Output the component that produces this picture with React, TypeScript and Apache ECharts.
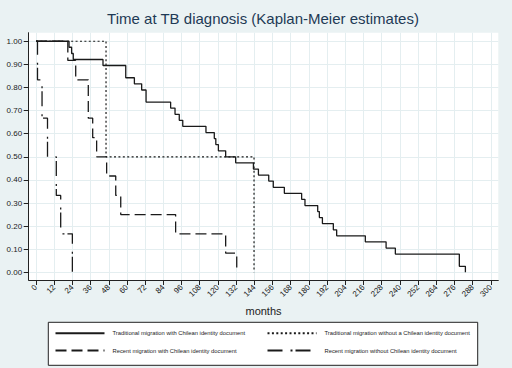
import React, { useEffect, useRef } from "react";
import * as echarts from "echarts";

const titleText = "Time at TB diagnosis (Kaplan-Meier estimates)";
const xAxisName = "months";

const xTicks = [0, 12, 24, 36, 48, 60, 72, 84, 96, 108, 120, 132, 144, 156, 168, 180, 192, 204, 216, 228, 240, 252, 264, 276, 288, 300];
const yTicks = [0, 0.1, 0.2, 0.3, 0.4, 0.5, 0.6, 0.7, 0.8, 0.9, 1.0];

const seriesNames = [
  "Traditional migration with Chilean identity document",
  "Traditional migration without a Chilean identity document",
  "Recent migration with Chilean identity document",
  "Recent migration without Chilean identity document",
];

// [months, survival] — survival after the step at that time
const tradWithId: [number, number][] = [
  [0, 1], [21.8, 0.974], [23.5, 0.947], [24.6, 0.921], [44.2, 0.895], [59.2, 0.842],
  [64.9, 0.816], [69.7, 0.789], [72.6, 0.737], [88.8, 0.711], [91.7, 0.684], [94.5, 0.658],
  [96.8, 0.632], [112.1, 0.605], [117.6, 0.579], [118.6, 0.553], [120.3, 0.526], [125.1, 0.5],
  [131.7, 0.474], [143.4, 0.447], [146.7, 0.421], [153.5, 0.395], [156.5, 0.368], [163.8, 0.342],
  [175.2, 0.316], [177.4, 0.289], [185.8, 0.263], [186.9, 0.237], [188.9, 0.211], [196.1, 0.184],
  [198.3, 0.158], [217.2, 0.132], [230.9, 0.105], [237.0, 0.079], [279.2, 0.026], [283.2, 0],
];
const tradWithoutId: [number, number][] = [
  [0, 1], [46.2, 0.5], [143.8, 0],
];
const recentWithId: [number, number][] = [
  [0, 1], [21, 0.917], [26.2, 0.833], [34.5, 0.667], [37.4, 0.583], [40.0, 0.5],
  [46.6, 0.417], [52.6, 0.333], [55.9, 0.25], [92.1, 0.167], [125.1, 0.083], [132.4, 0],
];
const recentWithoutId: [number, number][] = [
  [0, 1], [1.0, 0.833], [4.0, 0.667], [7.6, 0.5], [13.4, 0.333], [16.3, 0.167], [24.0, 0],
];

const FONT = "'Liberation Sans', Arial, Helvetica, sans-serif";
const INK = "#1a1a1a";

export default function App() {
  const ref = useRef<HTMLDivElement>(null);
  useEffect(() => {
    const chart = echarts.init(ref.current!, null, { renderer: "svg" });
    const lineSeries = (name: string, data: [number, number][], type: any, width = 1.3) => ({
      name,
      type: "line",
      step: "end",
      symbol: "none",
      showSymbol: false,
      data,
      lineStyle: { color: INK, width, type },
      itemStyle: { color: INK },
      emphasis: { disabled: true },
    });
    const legendCommon = {
      orient: "vertical",
      top: 330,
      itemWidth: 49,
      itemHeight: 8,
      itemGap: 11,
      padding: 0,
      selectedMode: false,
      itemStyle: { color: "rgba(0,0,0,0)", borderWidth: 0, opacity: 0 },
      textStyle: { fontSize: 5.8, color: INK, fontFamily: FONT, padding: [0, 0, 0, 3] },
    };
    chart.setOption({
      animation: false,
      backgroundColor: "#EAF2F3",
      textStyle: { fontFamily: FONT },
      title: {
        text: titleText,
        left: 263,
        top: 11,
        padding: 0,
        textAlign: "center",
        textStyle: { fontSize: 15, fontWeight: "normal", color: "#1e3a55", fontFamily: FONT },
      },
      grid: {
        left: 28.7,
        right: 13.7,
        top: 32.7,
        bottom: 88,
        show: true,
        backgroundColor: "#ffffff",
        borderWidth: 0,
      },
      xAxis: {
        type: "value",
        min: -4.8,
        max: 304.9,
        name: xAxisName,
        nameLocation: "middle",
        nameGap: 18,
        nameTextStyle: { fontSize: 11, color: "#222", fontFamily: FONT },
        axisLine: { show: true, onZero: false, lineStyle: { color: "#222", width: 1 } },
        axisTick: { show: true, length: 5, customValues: xTicks, lineStyle: { color: "#222" } },
        axisLabel: { customValues: xTicks, rotate: 45, fontSize: 8, color: INK, margin: 6, fontFamily: FONT },
        splitLine: { show: true, lineStyle: { color: "#E4EEF0", width: 1 } },
      },
      yAxis: {
        type: "value",
        min: -0.033,
        max: 1.037,
        axisLine: { show: true, onZero: false, lineStyle: { color: "#222", width: 1 } },
        axisTick: { show: true, length: 5, customValues: yTicks, lineStyle: { color: "#222" } },
        axisLabel: {
          customValues: yTicks,
          fontSize: 8,
          color: INK,
          margin: 6.5,
          fontFamily: FONT,
          formatter: (v: number) => v.toFixed(2),
        },
        splitLine: { show: true, lineStyle: { color: "#E4EEF0", width: 1 } },
      },
      legend: [
        { ...legendCommon, left: 54.5, data: [seriesNames[0], seriesNames[2]] },
        { ...legendCommon, left: 266.5, data: [seriesNames[1], seriesNames[3]] },
      ],
      graphic: [
        {
          type: "rect",
          shape: { x: 48.3, y: 322.3, width: 429.4, height: 43 },
          style: { fill: "#ffffff", stroke: "#222", lineWidth: 1 },
          z: -1,
          silent: true,
        },
      ],
      series: [
        lineSeries(seriesNames[0], tradWithId, "solid", 1.3),
        lineSeries(seriesNames[1], tradWithoutId, [2, 2.4], 1.2),
        lineSeries(seriesNames[2], recentWithId, [11, 5], 1.3),
        lineSeries(seriesNames[3], recentWithoutId, [15, 8, 2, 3], 1.3),
      ],
    });
    return () => chart.dispose();
  }, []);
  return <div ref={ref} style={{ position: "fixed", left: 0, top: 0, width: 512, height: 368 }} />;
}
